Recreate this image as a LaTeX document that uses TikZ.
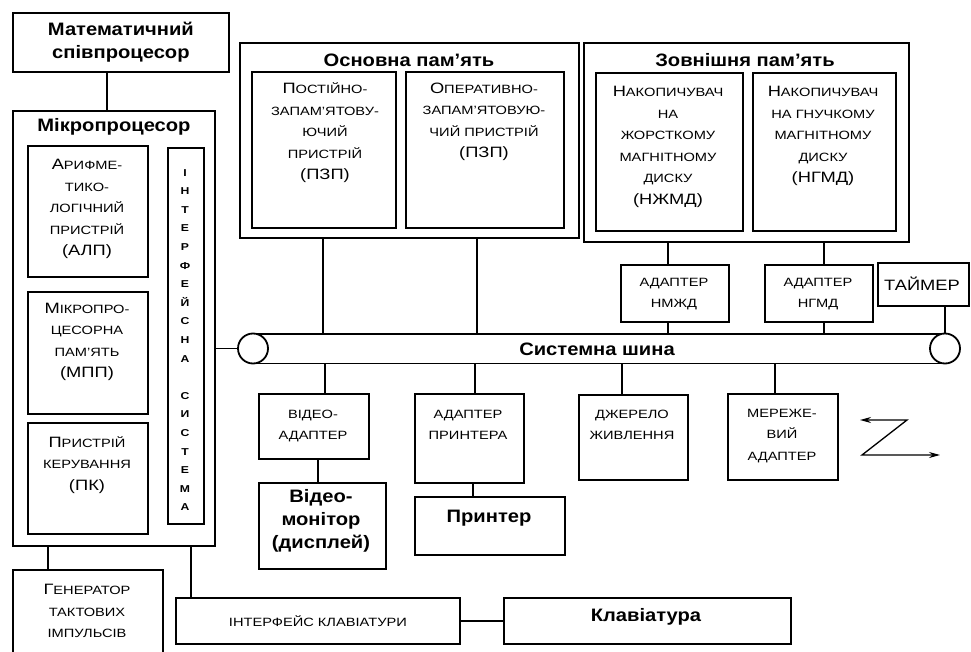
\documentclass[tikz,border=0pt]{standalone}
\usepackage{fontspec}
\setmainfont{Liberation Sans}
\newfontfamily\wfont[FakeStretch=1.22]{Liberation Sans}
\newfontfamily\wbfont[FakeStretch=1.12]{Liberation Sans}
\usetikzlibrary{arrows.meta,calc}
\newcommand\firstL[1]{{\fontsize{15}{15}\selectfont #1}}
\tikzset{
 bx/.style={draw, line width=1.8pt, inner sep=0pt, anchor=north west},
 sc/.style={font=\wfont\fontsize{12}{21.5}\selectfont, align=center, inner sep=0pt},
 ttl/.style={font=\wbfont\bfseries\fontsize{18}{23}\selectfont, align=center, inner sep=0pt},
 vt/.style={font=\wfont\bfseries\fontsize{10}{18.6}\selectfont, align=center, inner sep=0pt},
 conn/.style={line width=1.3pt},
 arr/.style={line width=1.3pt, {Stealth[length=11pt,width=6pt]}-{Stealth[length=11pt,width=6pt]}},
}
\begin{document}
\begin{tikzpicture}[x=1pt,y=-1pt]
\clip (0,0) rectangle (971,652);
\fill[white] (0,0) rectangle (971,652);

% coprocessor
\node[bx, minimum width=216pt, minimum height=59pt] (cop) at (12,12) {};
\node[ttl] (copt) at (cop.center) {Математичний\\співпроцесор};

% microprocessor
\node[bx, minimum width=202pt, minimum height=435pt] (mp) at (12,110) {};
\node[ttl] (mpt) at (114,127) {Мікропроцесор};
\node[bx, minimum width=120pt, minimum height=131pt] (alu) at (27,145) {};
\node[sc] (alut) at (87,209) {\firstL{А}РИФМЕ-\\ТИКО-\\ЛОГІЧНИЙ\\ПРИСТРІЙ\\\firstL{(АЛП)}};
\node[bx, minimum width=120pt, minimum height=122pt] (mpp) at (27,291) {};
\node[sc] (mppt) at (87,342) {\firstL{М}ІКРОПРО-\\ЦЕСОРНА\\ПАМ’ЯТЬ\\\firstL{(МПП)}};
\node[bx, minimum width=120pt, minimum height=111pt] (pk) at (27,422) {};
\node[sc] (pkt) at (87,465) {\firstL{П}РИСТРІЙ\\КЕРУВАННЯ\\\firstL{(ПК)}};
\node[bx, minimum width=36pt, minimum height=376pt] (isys) at (167,147) {};
\node[vt] (isyst) at (185,340) {І\\Н\\Т\\Е\\Р\\Ф\\Е\\Й\\С\\Н\\А\\[18.6pt]С\\И\\С\\Т\\Е\\М\\А};

% generator and keyboard
\node[bx, minimum width=150pt, minimum height=90pt] (gen) at (12,569) {};
\node[sc] (gent) at (87,611) {\firstL{Г}ЕНЕРАТОР\\ТАКТОВИХ\\ІМПУЛЬСІВ};
\node[bx, minimum width=284pt, minimum height=46pt] (kbi) at (175,597) {};
\node[sc] (kbit) at (kbi.center) {ІНТЕРФЕЙС КЛАВІАТУРИ};
\node[bx, minimum width=287pt, minimum height=46pt] (kb) at (503,597) {};
\node[ttl] (kbt) at (646,617) {Клавіатура};

% main memory
\node[bx, minimum width=339pt, minimum height=195pt] (om) at (239,42) {};
\node[ttl] (omt) at (409,60) {Основна пам’ять};
\node[bx, minimum width=144pt, minimum height=156pt] (rom) at (251,71) {};
\node[sc] (romt) at (325,133) {\firstL{П}ОСТІЙНО-\\ЗАПАМ’ЯТОВУ-\\ЮЧИЙ\\ПРИСТРІЙ\\\firstL{(ПЗП)}};
\node[bx, minimum width=158pt, minimum height=156pt] (ram) at (405,71) {};
\node[sc] (ramt) at (484,122) {\firstL{О}ПЕРАТИВНО-\\ЗАПАМ’ЯТОВУЮ-\\ЧИЙ ПРИСТРІЙ\\\firstL{(ПЗП)}};

% external memory
\node[bx, minimum width=325pt, minimum height=199pt] (em) at (583,42) {};
\node[ttl] (emt) at (745,60) {Зовнішня пам’ять};
\node[bx, minimum width=147pt, minimum height=158pt] (hdd) at (595,72) {};
\node[sc] (hddt) at (668,147) {\firstL{Н}АКОПИЧУВАЧ\\НА\\ЖОРСТКОМУ\\МАГНІТНОМУ\\ДИСКУ\\\firstL{(НЖМД)}};
\node[bx, minimum width=143pt, minimum height=158pt] (fdd) at (752,72) {};
\node[sc] (fddt) at (823,136) {\firstL{Н}АКОПИЧУВАЧ\\НА ГНУЧКОМУ\\МАГНІТНОМУ\\ДИСКУ\\\firstL{(НГМД)}};

% adapters above bus
\node[bx, minimum width=108pt, minimum height=57pt] (adh) at (620,264) {};
\node[sc] (adht) at (674,294) {АДАПТЕР\\НМЖД};
\node[bx, minimum width=108pt, minimum height=57pt] (adf) at (764,264) {};
\node[sc] (adft) at (818,294) {АДАПТЕР\\НГМД};
\node[bx, minimum width=91pt, minimum height=43pt] (tmr) at (877,262) {};
\node[sc, font=\wfont\fontsize{15}{18}\selectfont] (tmrt) at (922,284) {ТАЙМЕР};

% system bus
\node[inner sep=0pt, minimum width=692pt, minimum height=29pt, anchor=north west] (bus) at (253,334) {};
\draw[line width=1.8pt] (bus.north west) -- (bus.north east) (bus.south west) -- (bus.south east);
\node[circle, draw, fill=white, line width=1.8pt, minimum size=30pt, inner sep=0pt] (bl) at (253,348.5) {};
\node[circle, draw, fill=white, line width=1.8pt, minimum size=30pt, inner sep=0pt] (br) at (945,348.5) {};
\node[ttl] (bust) at (597,349) {Системна шина};

% devices below bus
\node[bx, minimum width=110pt, minimum height=65pt] (va) at (258,393) {};
\node[sc] (vat) at (313,426) {ВІДЕО-\\АДАПТЕР};
\node[bx, minimum width=127pt, minimum height=86pt] (mon) at (258,482) {};
\node[ttl] (mont) at (321,521) {Відео-\\монітор\\(дисплей)};
\node[bx, minimum width=109pt, minimum height=89pt] (pa) at (414,393) {};
\node[sc] (pat) at (468,425) {АДАПТЕР\\ПРИНТЕРА};
\node[bx, minimum width=150pt, minimum height=58pt] (prn) at (414,496) {};
\node[ttl] (prnt) at (489,518) {Принтер};
\node[bx, minimum width=109pt, minimum height=85pt] (psu) at (578,394) {};
\node[sc] (psut) at (632,425) {ДЖЕРЕЛО\\ЖИВЛЕННЯ};
\node[bx, minimum width=110pt, minimum height=86pt] (net) at (727,393) {};
\node[sc] (nett) at (782,436) {МЕРЕЖЕ-\\ВИЙ\\АДАПТЕР};

% connectors
\draw[conn] (107,0 |- cop.south) -- (107,0 |- mp.north);
\draw[conn] (48,0 |- mp.south) -- (48,0 |- gen.north);
\draw[conn] (191,0 |- mp.south) -- (191,0 |- kbi.north);
\draw[conn] (kbi.east) -- (kbi.east -| kb.west);
\draw[conn] (mp.east |- bl.west) -- (bl.west);
\draw[conn] (323,0 |- om.south) -- (323,0 |- bus.north);
\draw[conn] (477,0 |- om.south) -- (477,0 |- bus.north);
\draw[conn] (668,0 |- em.south) -- (668,0 |- adh.north);
\draw[conn] (668,0 |- adh.south) -- (668,0 |- bus.north);
\draw[conn] (824,0 |- em.south) -- (824,0 |- adf.north);
\draw[conn] (824,0 |- adf.south) -- (824,0 |- bus.north);
\draw[conn] (br.north |- tmr.south) -- (br.north);
\draw[conn] (325,0 |- bus.south) -- (325,0 |- va.north);
\draw[conn] (318,0 |- va.south) -- (318,0 |- mon.north);
\draw[conn] (475,0 |- bus.south) -- (475,0 |- pa.north);
\draw[conn] (473,0 |- pa.south) -- (473,0 |- prn.north);
\draw[conn] (622,0 |- bus.south) -- (622,0 |- psu.north);
\draw[conn] (775,0 |- bus.south) -- (775,0 |- net.north);

% wireless arrow
\coordinate (z1) at (860,420);
\coordinate (z2) at (907,420);
\coordinate (z3) at (862,455);
\coordinate (z4) at (940,455);
\draw[arr] (z1) -- (z2) -- (z3) -- (z4);
\end{tikzpicture}
\end{document}
